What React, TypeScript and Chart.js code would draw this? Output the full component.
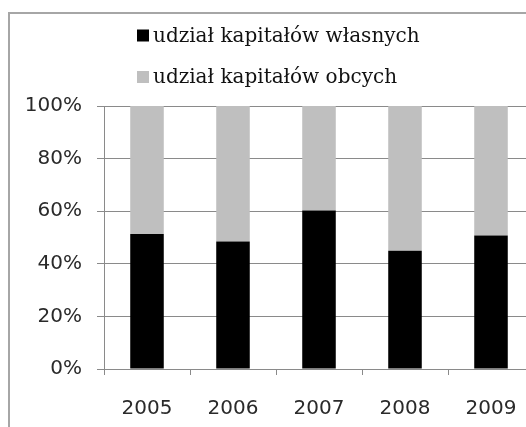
import React, { useEffect, useRef } from "react";
import { Chart, registerables } from "chart.js";

Chart.register(...registerables);

const categories = ["2005", "2006", "2007", "2008", "2009"];
const ownCapitalShare = [51.3, 48.5, 60.3, 45.0, 50.8];
const foreignCapitalShare = [48.7, 51.5, 39.7, 55.0, 49.2];
const seriesNames = ["udział kapitałów własnych", "udział kapitałów obcych"];
const seriesColors = ["#000000", "#bfbfbf"];
const yTicks = [0, 20, 40, 60, 80, 100];

const GRID = "#8a8a8a";

const frameAndLegend = {
  id: "frameAndLegend",
  afterDraw(chart: any) {
    const ctx = chart.ctx;
    ctx.save();
    // outer frame (cropped: only left and top edges visible)
    ctx.strokeStyle = "#a6a6a6";
    ctx.lineWidth = 2;
    ctx.beginPath();
    ctx.moveTo(9, chart.height + 5);
    ctx.lineTo(9, 13);
    ctx.lineTo(chart.width + 5, 13);
    ctx.stroke();

    // legend
    const ds = chart.data.datasets;
    ctx.font = "20px 'DejaVu Serif'";
    ctx.textBaseline = "alphabetic";
    ctx.textAlign = "left";
    const baselines = [41.5, 83];
    ds.forEach((d: any, i: number) => {
      const by = baselines[i];
      ctx.fillStyle = d.backgroundColor;
      ctx.fillRect(137, by - 12, 12, 12);
      ctx.fillStyle = "#111";
      ctx.fillText(d.label, 153, by);
    });
    ctx.restore();
  },
};

export default function App() {
  const ref = useRef<HTMLCanvasElement>(null);
  useEffect(() => {
    if (!ref.current) return;
    const chart = new Chart(ref.current, {
      type: "bar",
      data: {
        labels: categories,
        datasets: [
          {
            label: seriesNames[0],
            data: ownCapitalShare,
            backgroundColor: seriesColors[0],
            barPercentage: 0.39,
            categoryPercentage: 1,
          },
          {
            label: seriesNames[1],
            data: foreignCapitalShare,
            backgroundColor: seriesColors[1],
            barPercentage: 0.39,
            categoryPercentage: 1,
          },
        ],
      },
      options: {
        responsive: false,
        animation: false,
        layout: { padding: { top: 106, right: 16, left: 0, bottom: 0 } },
        plugins: {
          legend: { display: false },
          tooltip: { enabled: false },
        },
        scales: {
          x: {
            stacked: true,
            grid: {
              offset: true,
              drawOnChartArea: false,
              tickLength: 6,
              color: GRID,
            },
            border: { color: GRID },
            ticks: {
              padding: 22,
              color: "#2a2a2a",
              font: { family: "'DejaVu Sans'", size: 20 },
            },
            afterFit: (s: any) => {
              s.height = 58;
            },
          },
          y: {
            stacked: true,
            min: 0,
            max: 100,
            afterBuildTicks: (s: any) => {
              s.ticks = yTicks.map((v) => ({ value: v }));
            },
            grid: { color: GRID, tickLength: 7 },
            border: { color: GRID },
            ticks: {
              padding: 15,
              color: "#2a2a2a",
              font: { family: "'DejaVu Sans'", size: 20 },
              callback: (v: any) => v + "%",
            },
            afterFit: (s: any) => {
              s.width = 104;
            },
          },
        },
      },
      plugins: [frameAndLegend],
    });
    return () => chart.destroy();
  }, []);
  return (
    <div
      style={{
        position: "fixed",
        left: 0,
        top: 0,
        width: 526,
        height: 427,
        overflow: "hidden",
        background: "#fff",
      }}
    >
      <canvas ref={ref} width={550} height={427} style={{ display: "block" }} />
    </div>
  );
}
